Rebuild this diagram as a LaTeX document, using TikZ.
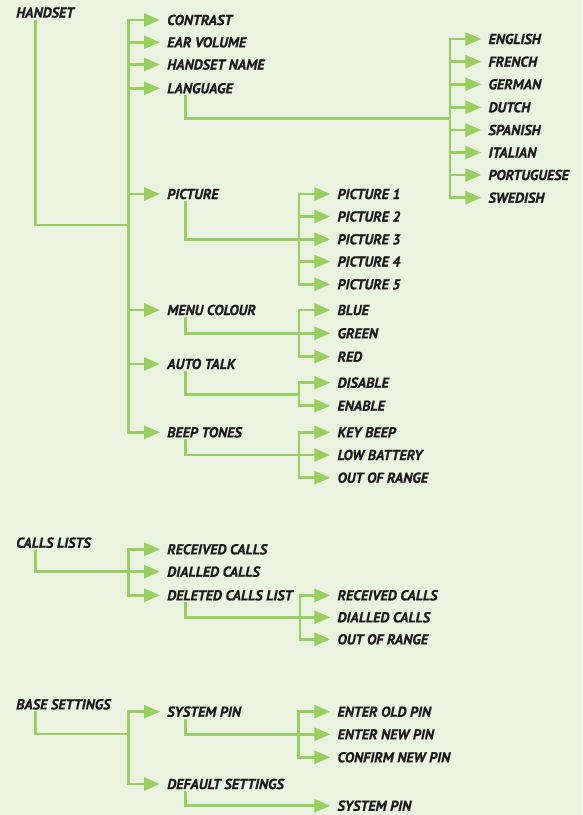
\documentclass[tikz,border=0pt]{standalone}
\usepackage{fontspec}
\newfontfamily\menufont[FakeBold=0.7]{PT Sans}
\usetikzlibrary{arrows.meta}
\definecolor{leaf}{RGB}{153,206,96}
\definecolor{paper}{RGB}{233,243,223}
\definecolor{ink}{RGB}{30,27,28}
\tikzset{
	item/.style={anchor=west, inner sep=0pt, text=ink, font=\menufont\bfseries\itshape\fontsize{14.4}{16}\selectfont},
	link/.style={draw=leaf, line width=2.8pt, line cap=rect},
	arr/.style={link, -{Triangle[length=16pt,width=13pt]}, shorten >=7pt},
}
\begin{document}
\begin{tikzpicture}[x=1pt,y=-1pt]
	\fill[paper] (0,0) rectangle (582,815);
	\useasboundingbox (0,0) rectangle (582,815);

	% handset
	\node[item] (handset) at (16,12.5) {HANDSET};
	\node[item] (contrast) at (167,20) {CONTRAST};
	\node[item] (earvol) at (167,42.3) {EAR VOLUME};
	\node[item] (hsname) at (167,64.5) {HANDSET NAME};
	\node[item] (language) at (167,88.3) {LANGUAGE};
	\node[item] (picture) at (167,194) {PICTURE};
	\node[item] (menucol) at (167,310) {MENU COLOUR};
	\node[item] (autotalk) at (167,364) {AUTO TALK};
	\node[item] (beep) at (167,432.3) {BEEP TONES};
	\coordinate (hs-t) at (128.3,0);
	\coordinate (hs-j) at (128.3,225);
	\draw[link] ([xshift=19.5pt,yshift=-3pt]handset.south west) |- (hs-j);
	\draw[link] (hs-t |- contrast.west) -- (hs-t |- beep.west);
	\draw[arr] (hs-t |- contrast.west) -- (contrast.west);
	\draw[arr] (hs-t |- earvol.west) -- (earvol.west);
	\draw[arr] (hs-t |- hsname.west) -- (hsname.west);
	\draw[arr] (hs-t |- language.west) -- (language.west);
	\draw[arr] (hs-t |- picture.west) -- (picture.west);
	\draw[arr] (hs-t |- menucol.west) -- (menucol.west);
	\draw[arr] (hs-t |- autotalk.west) -- (autotalk.west);
	\draw[arr] (hs-t |- beep.west) -- (beep.west);

	% languages
	\node[item] (english) at (488.3,39) {ENGLISH};
	\node[item] (french) at (488.3,61.7) {FRENCH};
	\node[item] (german) at (488.3,84.3) {GERMAN};
	\node[item] (dutch) at (488.3,107.3) {DUTCH};
	\node[item] (spanish) at (488.3,130) {SPANISH};
	\node[item] (italian) at (488.3,152.5) {ITALIAN};
	\node[item] (portug) at (488.3,175) {PORTUGUESE};
	\node[item] (swedish) at (488.3,197.7) {SWEDISH};
	\coordinate (lang-t) at (450,0);
	\coordinate (lang-j) at (450,118.5);
	\draw[link] ([xshift=18.5pt,yshift=-3pt]language.south west) |- (lang-j);
	\draw[link] (lang-t |- english.west) -- (lang-t |- swedish.west);
	\draw[arr] (lang-t |- english.west) -- (english.west);
	\draw[arr] (lang-t |- french.west) -- (french.west);
	\draw[arr] (lang-t |- german.west) -- (german.west);
	\draw[arr] (lang-t |- dutch.west) -- (dutch.west);
	\draw[arr] (lang-t |- spanish.west) -- (spanish.west);
	\draw[arr] (lang-t |- italian.west) -- (italian.west);
	\draw[arr] (lang-t |- portug.west) -- (portug.west);
	\draw[arr] (lang-t |- swedish.west) -- (swedish.west);

	% pictures
	\node[item] (pic1) at (337.3,194) {PICTURE 1};
	\node[item] (pic2) at (337.3,216.5) {PICTURE 2};
	\node[item] (pic3) at (337.3,239.3) {PICTURE 3};
	\node[item] (pic4) at (337.3,261.5) {PICTURE 4};
	\node[item] (pic5) at (337.3,284.3) {PICTURE 5};
	\coordinate (pic-t) at (299,0);
	\draw[link] (pic-t |- pic1.west) -- (pic-t |- pic5.west);
	\draw[arr] ([xshift=18.7pt,yshift=-3pt]picture.south west) |- (pic3.west);
	\draw[arr] (pic-t |- pic1.west) -- (pic1.west);
	\draw[arr] (pic-t |- pic2.west) -- (pic2.west);
	\draw[arr] (pic-t |- pic4.west) -- (pic4.west);
	\draw[arr] (pic-t |- pic5.west) -- (pic5.west);

	% menu colour
	\node[item] (blue) at (337.3,310) {BLUE};
	\node[item] (green) at (337.3,333.3) {GREEN};
	\node[item] (red) at (337.3,356.7) {RED};
	\coordinate (col-t) at (299,0);
	\draw[link] (col-t |- blue.west) -- (col-t |- red.west);
	\draw[arr] ([xshift=18.7pt,yshift=-3pt]menucol.south west) |- (green.west);
	\draw[arr] (col-t |- blue.west) -- (blue.west);
	\draw[arr] (col-t |- red.west) -- (red.west);

	% auto talk
	\node[item] (disable) at (337.3,382.7) {DISABLE};
	\node[item] (enable) at (337.3,405.7) {ENABLE};
	\coordinate (at-t) at (299,0);
	\coordinate (at-j) at (299,394.2);
	\draw[link] ([xshift=18.7pt,yshift=-3pt]autotalk.south west) |- (at-j);
	\draw[link] (at-t |- disable.west) -- (at-t |- enable.west);
	\draw[arr] (at-t |- disable.west) -- (disable.west);
	\draw[arr] (at-t |- enable.west) -- (enable.west);

	% beep tones
	\node[item] (keybeep) at (337.3,432.3) {KEY BEEP};
	\node[item] (lowbat) at (337.3,455) {LOW BATTERY};
	\node[item] (oor) at (337.3,477.7) {OUT OF RANGE};
	\coordinate (bt-t) at (299,0);
	\draw[link] (bt-t |- keybeep.west) -- (bt-t |- oor.west);
	\draw[arr] ([xshift=18.7pt,yshift=-3pt]beep.south west) |- (lowbat.west);
	\draw[arr] (bt-t |- keybeep.west) -- (keybeep.west);
	\draw[arr] (bt-t |- oor.west) -- (oor.west);

	% calls lists
	\node[item] (calls) at (16,542.7) {CALLS LISTS};
	\node[item] (received) at (167,549.3) {RECEIVED CALLS};
	\node[item] (dialled) at (167,571.7) {DIALLED CALLS};
	\node[item] (deleted) at (167,595.3) {DELETED CALLS LIST};
	\coordinate (cl-t) at (128.3,0);
	\draw[link] (cl-t |- received.west) -- (cl-t |- deleted.west);
	\draw[arr] ([xshift=19.5pt,yshift=-3pt]calls.south west) |- (dialled.west);
	\draw[arr] (cl-t |- received.west) -- (received.west);
	\draw[arr] (cl-t |- deleted.west) -- (deleted.west);

	\node[item] (delrec) at (337.3,595.3) {RECEIVED CALLS};
	\node[item] (deldial) at (337.3,617.3) {DIALLED CALLS};
	\node[item] (deloor) at (337.3,639.3) {OUT OF RANGE};
	\coordinate (del-t) at (300,0);
	\draw[link] (del-t |- delrec.west) -- (del-t |- deloor.west);
	\draw[arr] ([xshift=18.5pt,yshift=-3pt]deleted.south west) |- (deldial.west);
	\draw[arr] (del-t |- delrec.west) -- (delrec.west);
	\draw[arr] (del-t |- deloor.west) -- (deloor.west);

	% base settings
	\node[item] (base) at (16,704.3) {BASE SETTINGS};
	\node[item] (syspin) at (167,711.7) {SYSTEM PIN};
	\node[item] (default) at (167,784) {DEFAULT SETTINGS};
	\coordinate (bs-t) at (128.3,0);
	\coordinate (bs-j) at (128.3,734);
	\draw[link] ([xshift=19.5pt,yshift=-3pt]base.south west) |- (bs-j);
	\draw[link] (bs-t |- syspin.west) -- (bs-t |- default.west);
	\draw[arr] (bs-t |- syspin.west) -- (syspin.west);
	\draw[arr] (bs-t |- default.west) -- (default.west);

	\node[item] (oldpin) at (337.3,711.7) {ENTER OLD PIN};
	\node[item] (newpin) at (337.3,734.3) {ENTER NEW PIN};
	\node[item] (confpin) at (337.3,757.3) {CONFIRM NEW PIN};
	\coordinate (pin-t) at (298.5,0);
	\draw[link] (pin-t |- oldpin.west) -- (pin-t |- confpin.west);
	\draw[arr] ([xshift=18.5pt,yshift=-3pt]syspin.south west) |- (newpin.west);
	\draw[arr] (pin-t |- oldpin.west) -- (oldpin.west);
	\draw[arr] (pin-t |- confpin.west) -- (confpin.west);

	\node[item] (defpin) at (337.3,805.7) {SYSTEM PIN};
	\draw[arr] ([xshift=18.5pt,yshift=-3pt]default.south west) |- (defpin.west);
\end{tikzpicture}
\end{document}
